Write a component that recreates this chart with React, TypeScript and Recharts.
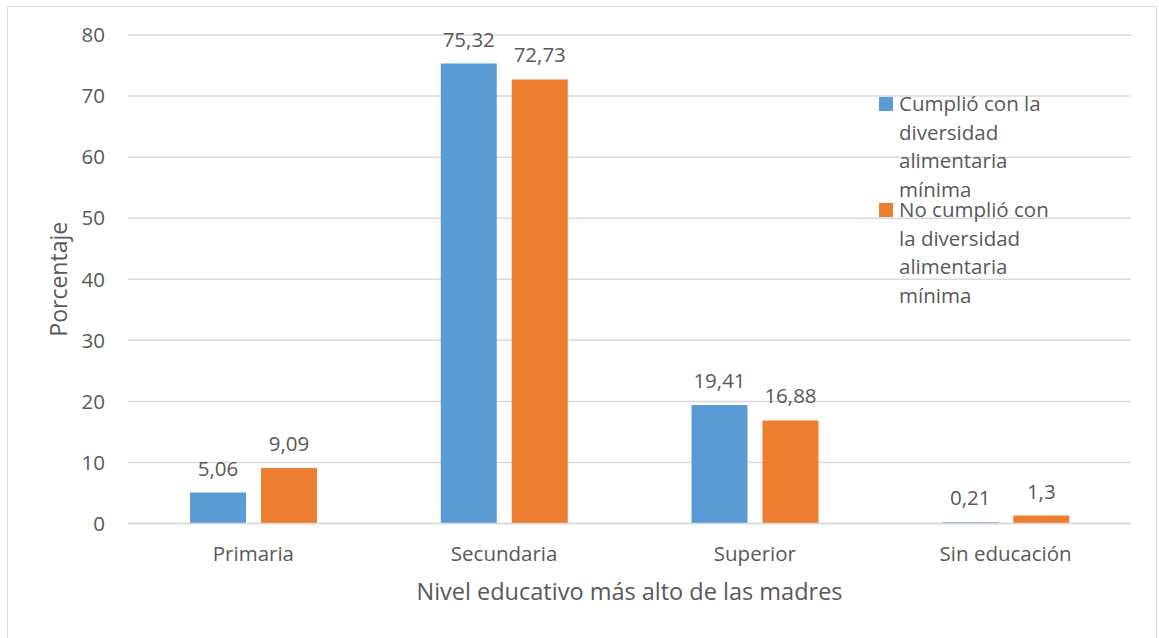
import React from "react";
import { BarChart, Bar, XAxis, YAxis, CartesianGrid, LabelList, Label } from "recharts";

const categories = ["Primaria", "Secundaria", "Superior", "Sin educación"];
const cumplio = [5.06, 75.32, 19.41, 0.21];
const noCumplio = [9.09, 72.73, 16.88, 1.3];
const yTicks = [0, 10, 20, 30, 40, 50, 60, 70, 80];
const seriesNames = [
  "Cumplió con la diversidad alimentaria mínima",
  "No cumplió con la diversidad alimentaria mínima",
];
const legendLines = [
  ["Cumplió con la", "diversidad", "alimentaria", "mínima"],
  ["No cumplió con", "la diversidad", "alimentaria", "mínima"],
];
const colors = ["#5b9bd5", "#ed7d31"];
const xTitle = "Nivel educativo más alto de las madres";
const yTitle = "Porcentaje";

const data = categories.map((c, i) => ({ name: c, a: cumplio[i], b: noCumplio[i] }));

const FONT = "'Open Sans', sans-serif";
const TXT = "#595959";
const FS = 20.5;
const fmt = (v: any) => String(v).replace(".", ",");

export default function App() {
  return (
    <div style={{ position: "fixed", left: 0, top: 0, width: 1159, height: 638, overflow: "hidden", background: "#fff", fontFamily: FONT }}>
      <div style={{ position: "absolute", left: 7, top: 6, width: 1150, height: 700, border: "1.5px solid #d9d9d9", boxSizing: "border-box" }} />
      <div style={{ position: "absolute", left: 0, top: 0 }}>
        <BarChart
          width={1159}
          height={638}
          data={data}
          margin={{ top: 35, right: 28, left: 68, bottom: 34.5 }}
          barSize={56}
          barGap={15}
        >
          <CartesianGrid vertical={false} stroke="#d9d9d9" strokeWidth={1.5} />
          <XAxis
            dataKey="name"
            height={80}
            axisLine={{ stroke: "#d9d9d9", strokeWidth: 1.5 }}
            tickLine={false}
            tickSize={0}
            tickMargin={23}
            tick={{ fill: TXT, fontSize: FS, fontFamily: FONT }}
          >
            <Label value={xTitle} position="insideBottom" offset={4} fill={TXT} fontSize={23.5} fontFamily={FONT} />
          </XAxis>
          <YAxis
            width={60}
            domain={[0, 80]}
            ticks={yTicks}
            axisLine={false}
            tickLine={false}
            tickSize={0}
            tickMargin={23}
            tick={{ fill: TXT, fontSize: FS, fontFamily: FONT }}
          >
            <Label value={yTitle} angle={-90} position="insideLeft" offset={-9} fill={TXT} fontSize={23} fontFamily={FONT} style={{ textAnchor: "middle" }} />
          </YAxis>
          <Bar dataKey="a" name={seriesNames[0]} fill={colors[0]} isAnimationActive={false}>
            <LabelList dataKey="a" position="top" offset={17} formatter={fmt} fill={TXT} fontSize={FS} fontFamily={FONT} />
          </Bar>
          <Bar dataKey="b" name={seriesNames[1]} fill={colors[1]} isAnimationActive={false}>
            <LabelList dataKey="b" position="top" offset={17} formatter={fmt} fill={TXT} fontSize={FS} fontFamily={FONT} />
          </Bar>
        </BarChart>
      </div>
      {legendLines.map((lines, i) => (
        <div key={i} style={{ position: "absolute", left: 879, top: i === 0 ? 89 : 195, color: TXT, fontSize: FS, lineHeight: "28.5px" }}>
          <div style={{ position: "absolute", left: 0, top: 8, width: 14, height: 14, background: colors[i] }} />
          <div style={{ marginLeft: 20, whiteSpace: "nowrap" }}>
            {lines.map((l, j) => (
              <div key={j}>{l}</div>
            ))}
          </div>
        </div>
      ))}
    </div>
  );
}
